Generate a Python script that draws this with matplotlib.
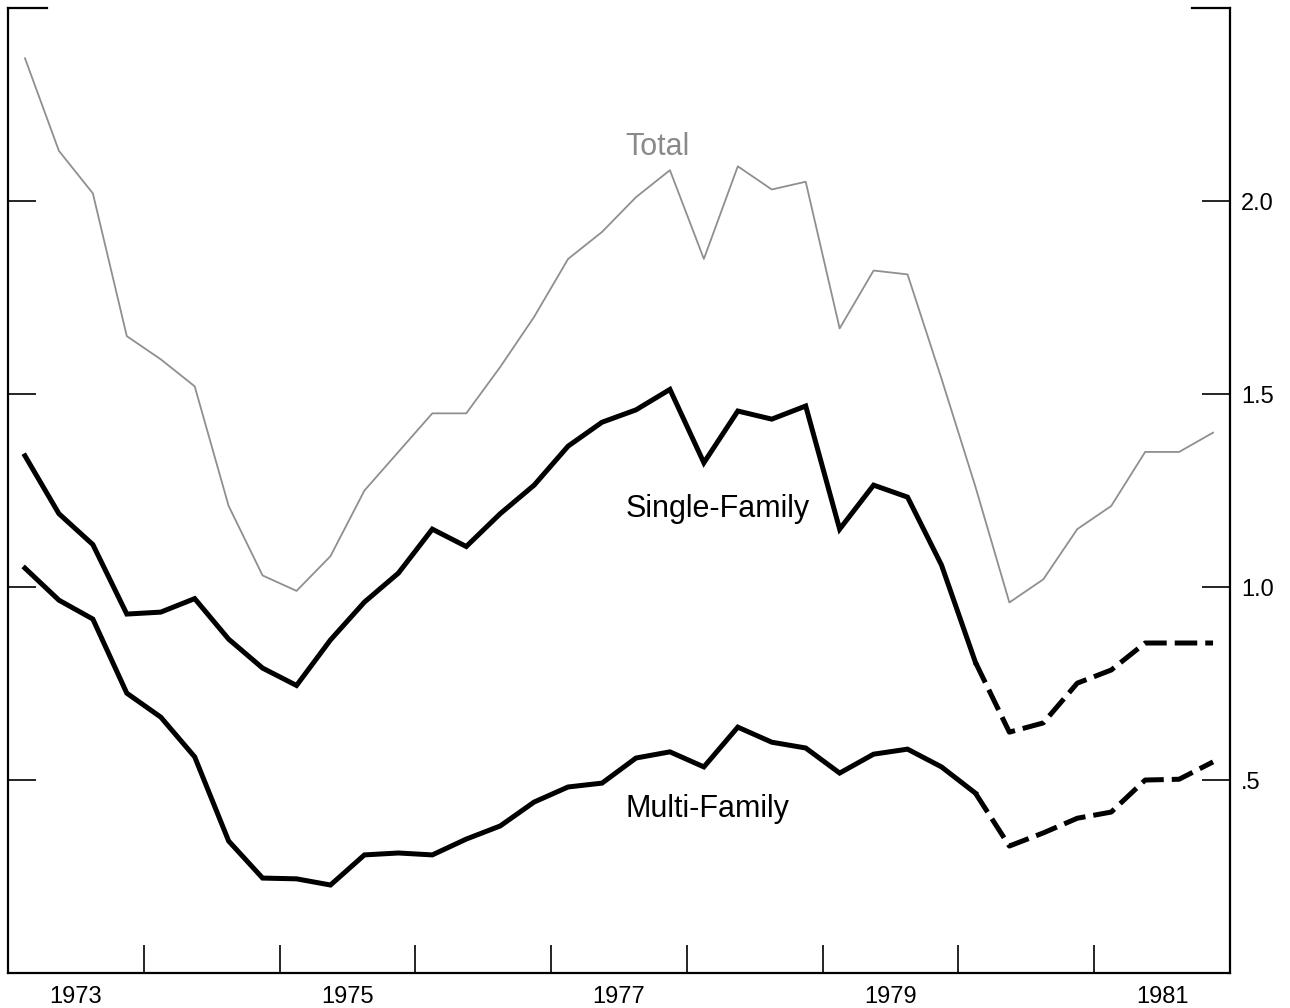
import numpy as np
import matplotlib.pyplot as plt

plt.rcParams['font.family'] = ['Liberation Sans', 'DejaVu Sans']

# quarterly data 1973:Q1 - 1981:Q4 (million units, annual rate)
years = np.repeat(np.arange(1973, 1982), 4)
qtrs = np.tile([1, 2, 3, 4], 9)

total = [2.37, 2.13, 2.02, 1.65, 1.59, 1.52, 1.21, 1.03, 0.99,
         1.08, 1.25, 1.35, 1.45, 1.45, 1.57, 1.70, 1.85, 1.92,
         2.01, 2.08, 1.85, 2.09, 2.03, 2.05, 1.67, 1.82, 1.81,
         1.54, 1.26, 0.96, 1.02, 1.15, 1.21, 1.35, 1.35, 1.40]
single_family = [1.34, 1.19, 1.11, 0.93, 0.935, 0.97, 0.865, 0.79, 0.745,
                 0.863, 0.961, 1.036, 1.15, 1.105, 1.19, 1.264, 1.365, 1.427,
                 1.459, 1.512, 1.322, 1.456, 1.435, 1.469, 1.15, 1.264, 1.233,
                 1.057, 0.805, 0.624, 0.648, 0.751, 0.785, 0.855, 0.855, 0.855]
multi_family = [1.049, 0.966, 0.917, 0.725, 0.663, 0.56, 0.342, 0.246, 0.244,
                0.228, 0.306, 0.311, 0.306, 0.347, 0.381, 0.443, 0.482, 0.492,
                0.557, 0.573, 0.534, 0.637, 0.598, 0.583, 0.518, 0.567, 0.58,
                0.534, 0.466, 0.329, 0.363, 0.401, 0.417, 0.50, 0.502, 0.547]
# index of the last quarter drawn solid; after it the lines are dashed
LAST_ACTUAL = 28

year_labels = ['1973', '1975', '1977', '1979', '1981']
y_ticks = [0.5, 1.0, 1.5, 2.0]
y_labels = ['.5', '1.0', '1.5', '2.0']

x = years + (qtrs - 0.5) / 4.0
total = np.array(total)
single_family = np.array(single_family)
multi_family = np.array(multi_family)

fig = plt.figure(figsize=(12.9, 10.08), dpi=100)
ax = fig.add_axes([0.0062, 0.0347, 0.9473, 0.9573])

ax.plot(x, total, color='#8f8f8f', lw=1.3)

dash = (0, (4.5, 1.6))
for series in (single_family, multi_family):
    ax.plot(x[:LAST_ACTUAL + 1], series[:LAST_ACTUAL + 1], color='black', lw=3.6,
            solid_joinstyle='miter')
    ax.plot(x[LAST_ACTUAL:], series[LAST_ACTUAL:], color='black', lw=3.6,
            linestyle=dash, dash_capstyle='butt')

ax.text(1977.55, 2.119, 'Total', fontsize=22, color='#8a8a8a', ha='left', va='baseline')
ax.text(1977.55, 1.181, 'Single-Family', fontsize=22, color='black', ha='left', va='baseline')
ax.text(1977.55, 0.404, 'Multi-Family', fontsize=22, color='black', ha='left', va='baseline')

ax.set_xlim(1973, 1982)
ax.set_ylim(0, 2.5)

# year boundaries as inward ticks, labels centred in odd years
ax.set_xticks(np.arange(1974, 1982))
ax.set_xticklabels([])
ax.set_xticks([int(y) + 0.5 for y in year_labels], minor=True)
ax.set_xticklabels(year_labels, minor=True)
ax.tick_params(axis='x', which='major', direction='in', length=20, width=1.2)
ax.tick_params(axis='x', which='minor', length=0, labelsize=17, pad=9)

ax.set_yticks(y_ticks)
ax.set_yticklabels(y_labels)
ax.yaxis.set_ticks_position('both')
ax.tick_params(axis='y', direction='in', length=20, width=1.2,
               labelleft=False, labelright=True, labelsize=17, pad=8)

ax.spines['top'].set_visible(False)
for s in ('left', 'right', 'bottom'):
    ax.spines[s].set_linewidth(1.6)

# short corner marks along the top edge
ax.plot([0, 0.032], [1, 1], transform=ax.transAxes, color='black', lw=1.6, clip_on=False)
ax.plot([0.969, 1], [1, 1], transform=ax.transAxes, color='black', lw=1.6, clip_on=False)

fig.savefig('out.png', dpi=100)
